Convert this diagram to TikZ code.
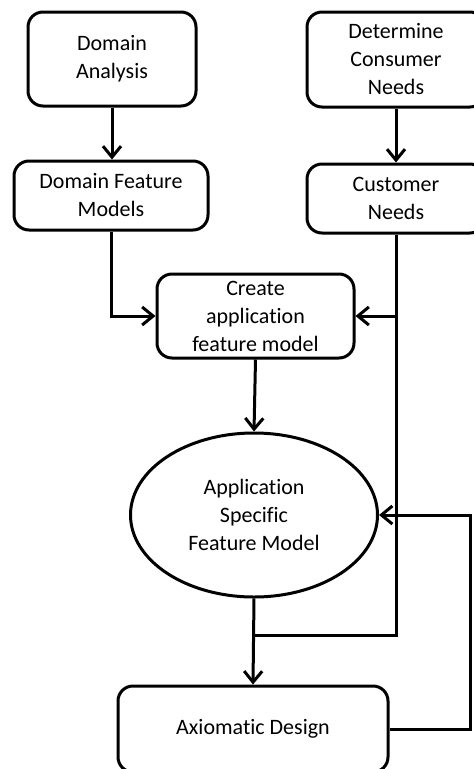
\documentclass[tikz,border=0pt]{standalone}
\usepackage{fontspec}
\setmainfont[Ligatures=NoCommon]{Carlito}
\usetikzlibrary{arrows.meta,shapes.geometric,calc}

\tikzset{
  lbl/.style={align=center, font=\fontsize{22}{28}\selectfont, text=black},
  stepbox/.style={lbl, draw, line width=3pt, rounded corners=15pt, inner sep=0pt},
  blob/.style={lbl, draw, ellipse, line width=3pt, inner sep=0pt},
  link/.style={line width=3pt},
  flow/.style={link, -{Straight Barb[length=11pt,width=18pt,line width=3pt]}}
}

\begin{document}
\begin{tikzpicture}[x=1pt,y=-1pt]
  \useasboundingbox (0,0) rectangle (474,769);
  \clip (0,0) rectangle (474,769);

  % process boxes
  \node[stepbox, minimum width=168pt, minimum height=94pt]  (da)  at (112,59)    {Domain\\Analysis};
  \node[stepbox, minimum width=178pt, minimum height=95pt]  (dcn) at (396,59.5)  {Determine\\Consumer\\Needs};
  \node[stepbox, minimum width=194pt, minimum height=69pt]  (dfm) at (111,195.5) {Domain Feature\\Models};
  \node[stepbox, minimum width=178pt, minimum height=69pt]  (cn)  at (396,198.5) {Customer\\Needs};
  \node[stepbox, minimum width=197pt, minimum height=84pt]  (cafm) at (255.5,316) {Create\\application\\feature model};
  \node[blob, minimum width=247pt, minimum height=164pt]    (asfm) at (254,515)  {Application\\Specific\\Feature Model};
  \node[stepbox, minimum width=270pt, minimum height=86pt]  (ad)  at (253,729)   {Axiomatic Design};

  % junction points
  \coordinate (join) at (254,635);
  \coordinate (back) at (470,729);

  % connectors
  \draw[flow] (da.south) -- (da.south |- dfm.north);
  \draw[flow] (dcn.south) -- (cn.north);
  \draw[flow] (dfm.south) |- (cafm.west);
  \draw[link] (cn.south) |- (join);
  \draw[flow] (cn.south |- cafm.east) -- (cafm.east);
  \draw[flow] (cafm.south) -- (asfm.north);
  \draw[flow] (asfm.south) -- (ad.north);
  \draw[flow] (ad.east) -- (back) |- (asfm.east);
\end{tikzpicture}
\end{document}
